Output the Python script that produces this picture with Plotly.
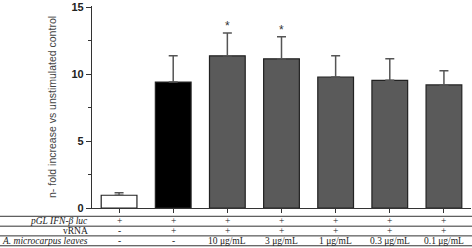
import plotly.graph_objects as go

categories = ["c1", "c2", "c3", "c4", "c5", "c6", "c7"]
values = [0.95, 9.4, 11.36, 11.14, 9.78, 9.53, 9.19]
err_up = [0.18, 1.96, 1.7, 1.65, 1.58, 1.61, 1.06]
bar_colors = ["#ffffff", "#000000", "#5a5a5a", "#5a5a5a", "#5a5a5a", "#5a5a5a", "#5a5a5a"]
sig = ["", "", "*", "*", "", "", ""]
row_labels = ["pGL IFN-\u03b2 luc", "vRNA", "A. microcarpus leaves"]
row1 = ["+", "+", "+", "+", "+", "+", "+"]
row2 = ["-", "+", "+", "+", "+", "+", "+"]
row3 = ["-", "-", "10 \u03bcg/mL", "3 \u03bcg/mL", "1 \u03bcg/mL", "0.3 \u03bcg/mL", "0.1 \u03bcg/mL"]
y_ticks = [0, 5, 10, 15]
y_minor = [2.5, 7.5, 12.5]

fig = go.Figure()
fig.add_trace(go.Bar(
    x=categories, y=values, width=0.66,
    marker=dict(color=bar_colors, line=dict(color="#222222", width=1.2)),
    error_y=dict(type="data", symmetric=False, array=err_up,
                 arrayminus=[0] * len(values), color="#555555", thickness=1.5, width=4.5),
))

fig.update_layout(
    width=472, height=248,
    margin=dict(l=92, r=1, t=4, b=40),
    plot_bgcolor="white", paper_bgcolor="white",
    showlegend=False, bargap=0.34,
    font=dict(family="Liberation Sans", color="#222"),
)
fig.update_xaxes(showticklabels=False, showline=True, linecolor="#333", linewidth=1,
                 ticks="outside", ticklen=4, tickcolor="#333", range=[-0.5, 6.5])
fig.update_yaxes(range=[0, 15.08], tickmode="array", tickvals=y_ticks,
                 ticktext=[str(v) for v in y_ticks],
                 ticklabeloverflow="allow",
                 showline=True, linecolor="#333", linewidth=1.2, ticks="outside",
                 ticklen=5, tickcolor="#333", showgrid=False, zeroline=False,
                 tickfont=dict(family="Liberation Sans", size=11, color="#222", weight="bold"),
                 minor=dict(tickmode="array", tickvals=y_minor, ticks="outside",
                            ticklen=3, tickcolor="#333", showgrid=False),
                 title=dict(text="n- fold increase vs unstimulated control",
                            font=dict(size=10.5, color="#444"), standoff=12))

for c, s, v, e in zip(categories, sig, values, err_up):
    if s:
        fig.add_annotation(x=c, y=v + e, text=s, showarrow=False, yshift=7,
                           font=dict(size=12, color="#333"))

# table lines
for py in [-0.041, -0.090, -0.138, -0.187]:
    fig.add_shape(type="line", xref="paper", yref="paper", x0=-0.25, x1=1.01,
                  y0=py, y1=py, line=dict(color="#333", width=1))

row_y = [-0.065, -0.114, -0.163]
label_styles = [True, False, True]
for lbl, ry, it in zip(row_labels, row_y, label_styles):
    fig.add_annotation(xref="paper", yref="paper", x=-0.005, y=ry, text=lbl,
                       xanchor="right", yanchor="middle", showarrow=False,
                       font=dict(family="Liberation Serif", size=9.5, color="#222",
                                 style="italic" if it else "normal"))
for row, ry in zip([row1, row2, row3], row_y):
    for c, t in zip(categories, row):
        fig.add_annotation(xref="x", yref="paper", x=c, y=ry, text=t, showarrow=False,
                           xanchor="center", yanchor="middle",
                           font=dict(family="Liberation Serif", size=9.5, color="#222"))

fig.write_html("out.html", config={"displayModeBar": False},
               post_script="document.body.style.margin='0';")
